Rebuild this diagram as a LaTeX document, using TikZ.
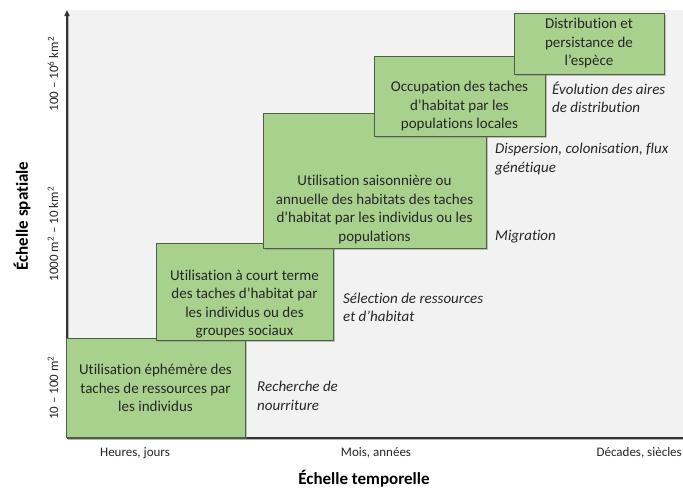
\documentclass[tikz,border=0pt]{standalone}
\usepackage{fontspec}
\setmainfont{Carlito}[Ligatures=CommonOff]
\usetikzlibrary{arrows.meta,shadows}
\definecolor{boxgreen}{HTML}{A9D18E}
\definecolor{boxedge}{HTML}{4E5E43}
\definecolor{panel}{HTML}{F2F2F2}
\definecolor{txt}{HTML}{262626}
\tikzset{
  stagebox/.style={draw=boxedge, line width=1pt, fill=boxgreen, inner sep=0pt,
    drop shadow={shadow xshift=1.6pt, shadow yshift=-1.6pt, opacity=0.45}},
  boxtext/.style={align=center, inner sep=0pt, text=txt,
    font=\fontsize{15}{18.5}\selectfont},
  proc/.style={align=left, anchor=west, inner sep=0pt, text=txt,
    font=\fontsize{15}{18.5}\selectfont\itshape},
  scalelab/.style={inner sep=0pt, text=txt, font=\fontsize{13}{15}\selectfont},
  axtitle/.style={inner sep=0pt, text=black, font=\fontsize{17}{20}\selectfont\bfseries},
  axisline/.style={line width=1.6pt, draw=black!80},
  axisshadow/.style={line width=1.6pt, draw=black!30}
}
\begin{document}
\begin{tikzpicture}[x=1pt,y=-1pt]
\useasboundingbox (0,0) rectangle (683,490);
\fill[white] (0,0) rectangle (683,490);
\fill[panel] (67,10) rectangle (683,438);

% axes
\coordinate (o) at (67,438);
\coordinate (ytop) at (67,10);
\coordinate (xend) at (683,438);
\coordinate (os) at (68.6,439.6);
\coordinate (ytops) at (68.6,16);
\coordinate (xends) at (683,439.6);
\draw[axisshadow] (ytops) -- (os) -- (xends);
\draw[axisline, -{Triangle[length=6pt,width=5pt]}] (o) -- (ytop);
\draw[axisline] (o) -- (xend);

% boxes
\node[stagebox, minimum width=179pt, minimum height=99pt] (b1) at (155.5,387.5) {};
\node[stagebox, minimum width=177pt, minimum height=97pt] (b2) at (244.5,291.5) {};
\node[stagebox, minimum width=223pt, minimum height=135pt] (b3) at (374.5,180.5) {};
\node[stagebox, minimum width=171pt, minimum height=80pt] (b4) at (459.5,96) {};
\node[stagebox, minimum width=150pt, minimum height=61pt] (b5) at (589,43.5) {};

\node[boxtext] (t1) at (155.5,388) {Utilisation éphémère des\\taches de ressources par\\les individus};
\node[boxtext] (t2) at (244.5,304) {Utilisation à court terme\\des taches d’habitat par\\les individus ou des\\groupes sociaux};
\node[boxtext] (t3) at (374.5,209.5) {Utilisation saisonnière ou\\annuelle des habitats des taches\\d’habitat par les individus ou les\\populations};
\node[boxtext] (t4) at (459.5,106) {Occupation des taches\\d’habitat par les\\populations locales};
\node[boxtext] (t5) at (589,43) {Distribution et\\persistance de\\l’espèce};

% processes
\node[proc] (p1) at (257,396) {Recherche de\\nourriture};
\node[proc] (p2) at (343,307.5) {Sélection de ressources\\et d’habitat};
\node[proc] (p3) at (495,236.5) {Migration};
\node[proc] (p4) at (495,159) {Dispersion, colonisation, flux\\génétique};
\node[proc] (p5) at (552,97.5) {Évolution des aires\\de distribution};

% scale labels
\node[scalelab, rotate=90] (s1) at (53,388) {10 – 100 m\textsuperscript{2}};
\node[scalelab, rotate=90] (s2) at (53,234) {1000 m\textsuperscript{2} – 10 km\textsuperscript{2}};
\node[scalelab, rotate=90] (s3) at (53,74) {100 – 10\textsuperscript{6} km\textsuperscript{2}};

\node[scalelab] (h1) at (135,453) {Heures, jours};
\node[scalelab] (h2) at (376,453) {Mois, années};
\node[scalelab, anchor=east] (h3) at (682,453) {Décades, siècles};

\node[axtitle] (xt) at (364,479) {Échelle temporelle};
\node[axtitle, rotate=90] (yt) at (22,216) {Échelle spatiale};
\end{tikzpicture}
\end{document}
